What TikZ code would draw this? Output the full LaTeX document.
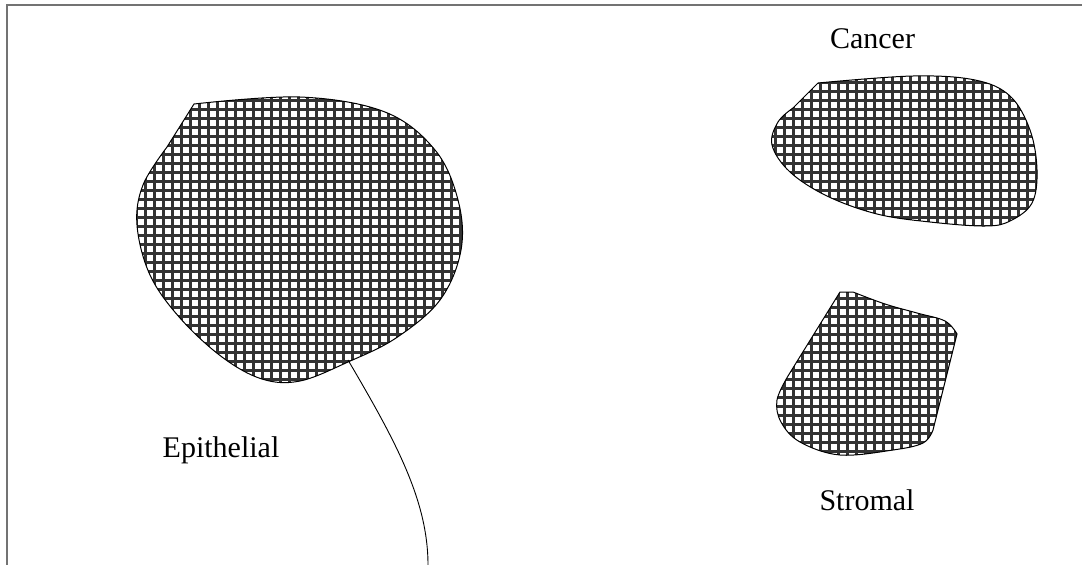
\documentclass[tikz,border=0pt]{standalone}
\usepackage{fontspec}
\setmainfont{Liberation Serif}
\begin{document}
\begin{tikzpicture}[x=1pt,y=-1pt,
  frameline/.style={draw=black!55,line width=1.4pt},
  blobline/.style={draw=black,line width=1pt},
  gridline/.style={draw=black!80,line width=3pt},
  conn/.style={draw=black,line width=0.9pt},
  lbl/.style={anchor=base,font=\fontsize{30}{36}\selectfont,inner sep=0pt}]
\useasboundingbox (0,0) rectangle (1082,565);
\fill[white] (0,0) rectangle (1082,565);
% frame
\draw[frameline] (7,565) -- (7,5) -- (1082,5);
% blob paths
\def\epipath{(194,104) -- plot[smooth,tension=0.6] coordinates {(194,104) (300,97) (385,112) (435,150) (458,200) (461,250) (440,300) (396,338) (348,362) (300,381) (262,379) (222,357) (180,318) (150,275) (137,225) (143,185) (167,147)} -- cycle}
\def\canpath{(818,83) -- plot[smooth,tension=0.6] coordinates {(818,83) (913,76) (975,80) (1010,96) (1030,130) (1037,170) (1032,203) (1010,221) (985,226) (930,222) (877,214) (827,196) (790,172) (772,145) (778,122) (793,108)} -- cycle}
\def\strpath{(840,292) -- plot[smooth,tension=0.6] coordinates {(853,292) (885,304) (917,313) (945,321) (957,334)} -- plot[smooth,tension=0.6] coordinates {(933,430) (923,443) (893,450) (840,455) (800,442) (781,422) (777,400) (788,376)} -- cycle}
\foreach \p in {\epipath,\canpath,\strpath}{
  \begin{scope}
    \clip \p;
    \fill[white] (0,0) rectangle (1082,565);
    \foreach \i in {0,...,121} {
      \draw[gridline] (\i*9+1,0) -- (\i*9+1,565);
    }
    \foreach \j in {0,...,63} {
      \draw[gridline] (0,\j*9+1) -- (1082,\j*9+1);
    }
  \end{scope}
  \draw[blobline] \p;
}
% connector
\coordinate (epiA) at (348,360);
\coordinate (connEnd) at (428,565);
\draw[conn] (epiA) .. controls (395,440) and (428,500) .. (connEnd);
% labels
\node[lbl] (cancer) at (872.5,48) {Cancer};
\node[lbl] (epithelial) at (221,457) {Epithelial};
\node[lbl] (stromal) at (867,510) {Stromal};
\end{tikzpicture}
\end{document}
